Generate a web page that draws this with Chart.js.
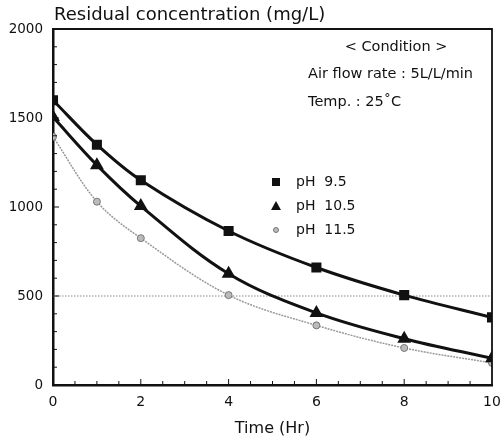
<!DOCTYPE html>
<html>
<head>
<meta charset="utf-8">
<script src="https://cdn.jsdelivr.net/npm/chart.js@4.4.1/dist/chart.umd.min.js"></script>
<style>
  html, body { margin: 0; padding: 0; background: #fff; }
  #wrap { width: 504px; height: 443px; }
</style>
</head>
<body>
<div id="wrap"><canvas id="chart" width="504" height="443"></canvas></div>
<script>
// data
const times = [0, 1, 2, 4, 6, 8, 10];
const ph95 = [1600, 1350, 1150, 865, 660, 505, 380];
const ph105 = [1505, 1235, 1005, 625, 405, 260, 150];
const ph115 = [1395, 1030, 825, 505, 335, 208, 124];
const seriesLabels = ["pH  9.5", "pH  10.5", "pH  11.5"];
const conditionLines = ["< Condition >", "Air flow rate : 5L/L/min", "Temp. : 25\u02DAC"];
const refLevel = 500;
const FONT = "'DejaVu Sans', sans-serif";

const toPoints = (ys) => ys.map((y, i) => ({ x: times[i], y: y }));

// frame, inner ticks, texts and legend
const decorPlugin = {
  id: "decor",
  beforeDatasetsDraw(chart) {
    const { ctx, chartArea: a, scales } = chart;
    const py = scales.y.getPixelForValue(refLevel);
    ctx.save();
    ctx.strokeStyle = "#888";
    ctx.lineWidth = 1;
    ctx.setLineDash([1.5, 1.5]);
    ctx.beginPath();
    ctx.moveTo(a.left, py);
    ctx.lineTo(a.right, py);
    ctx.stroke();
    ctx.restore();
  },
  afterDraw(chart) {
    const { ctx, chartArea: a, scales } = chart;
    ctx.save();
    ctx.setLineDash([]);
    ctx.globalAlpha = 1;
    // top/right frame
    ctx.strokeStyle = "#111111";
    ctx.lineWidth = 1.8;
    ctx.beginPath();
    ctx.moveTo(a.left, a.top);
    ctx.lineTo(a.right, a.top);
    ctx.lineTo(a.right, a.bottom);
    ctx.stroke();

    // inner minor ticks
    ctx.lineWidth = 1;
    ctx.beginPath();
    for (let v = 100; v < 2000; v += 100) {
      const py = scales.y.getPixelForValue(v);
      const len = v % 500 === 0 ? 6 : 4;
      ctx.moveTo(a.left, py);
      ctx.lineTo(a.left + len, py);
    }
    for (let t = 0.5; t < 10; t += 0.5) {
      const px = scales.x.getPixelForValue(t);
      const len = t % 2 === 0 ? 6 : 4;
      ctx.moveTo(px, a.bottom);
      ctx.lineTo(px, a.bottom - len);
    }
    ctx.stroke();

    // axis title on top
    ctx.fillStyle = "#111";
    ctx.font = "18px " + FONT;
    ctx.textAlign = "left";
    ctx.textBaseline = "alphabetic";
    ctx.fillText("Residual concentration (mg/L)", a.left + 1, 20);

    // condition block
    ctx.font = "14.5px " + FONT;
    ctx.textAlign = "center";
    ctx.fillText(conditionLines[0], a.left + 343, a.top + 22);
    ctx.textAlign = "left";
    ctx.fillText(conditionLines[1], a.left + 255, a.top + 49);
    ctx.fillText(conditionLines[2], a.left + 255, a.top + 77);

    // legend
    ctx.font = "14px " + FONT;
    chart.data.datasets.forEach((ds, i) => {
      const y = a.top + 153 + i * 24;
      const x = a.left + 223;
      ctx.fillStyle = ds.pointBackgroundColor;
      ctx.strokeStyle = ds.pointBorderColor;
      ctx.lineWidth = 1;
      if (i === 0) {
        ctx.fillRect(x - 4, y - 4, 8, 8);
      } else if (i === 1) {
        ctx.beginPath();
        ctx.moveTo(x, y - 5);
        ctx.lineTo(x + 5, y + 4);
        ctx.lineTo(x - 5, y + 4);
        ctx.closePath();
        ctx.fill();
      } else {
        ctx.beginPath();
        ctx.arc(x, y, 2.5, 0, Math.PI * 2);
        ctx.fill();
        ctx.stroke();
      }
      ctx.fillStyle = "#111";
      ctx.textBaseline = "middle";
      ctx.fillText(seriesLabels[i], x + 20, y);
    });
    ctx.restore();
  }
};

new Chart(document.getElementById("chart"), {
  type: "line",
  data: {
    datasets: [
      {
        label: seriesLabels[0],
        data: toPoints(ph95),
        borderColor: "#111",
        borderWidth: 3,
        pointStyle: "rect",
        pointRadius: 5,
        pointBackgroundColor: "#111",
        pointBorderColor: "#111",
        tension: 0.35,
      },
      {
        label: seriesLabels[1],
        data: toPoints(ph105),
        borderColor: "#111",
        borderWidth: 3,
        pointStyle: "triangle",
        pointRadius: 5,
        pointBackgroundColor: "#111",
        pointBorderColor: "#111",
        tension: 0.35,
      },
      {
        label: seriesLabels[2],
        data: toPoints(ph115),
        borderColor: "#999",
        borderWidth: 1.5,
        borderDash: [2, 1],
        pointStyle: "circle",
        pointRadius: 3.5,
        pointBackgroundColor: "#bbb",
        pointBorderColor: "#777",
        pointBorderWidth: 1,
        tension: 0.35,
      },
    ],
  },
  options: {
    responsive: false,
    animation: false,
    layout: { padding: { top: 29, right: 12, left: 0, bottom: 0 } },
    plugins: {
      legend: { display: false },
      tooltip: { enabled: false },
    },
    scales: {
      x: {
        type: "linear",
        min: 0,
        max: 10,
        afterFit: (s) => {
          s.height = 58;
          s.paddingRight = 0;
          s.paddingLeft = 0;
        },
        ticks: {
          stepSize: 2,
          color: "#111",
          padding: 9,
          font: { family: FONT, size: 14 },
        },
        grid: { display: false, drawTicks: false },
        border: { display: true, color: "#111", width: 2.5 },
        title: {
          display: true,
          text: "Time (Hr)",
          color: "#111",
          font: { family: FONT, size: 16 },
          padding: { top: 0, bottom: 5 },
        },
      },
      y: {
        min: 0,
        max: 2000,
        afterFit: (s) => {
          s.width = 53;
          s.paddingTop = 0;
          s.paddingBottom = 0;
        },
        ticks: {
          stepSize: 500,
          color: "#111",
          padding: 10,
          font: { family: FONT, size: 13.5 },
          callback: (v) => String(v),
        },
        grid: { display: false, drawTicks: false },
        border: { display: true, color: "#111", width: 2.5 },
      },
    },
  },
  plugins: [decorPlugin],
});
</script>
</body>
</html>
